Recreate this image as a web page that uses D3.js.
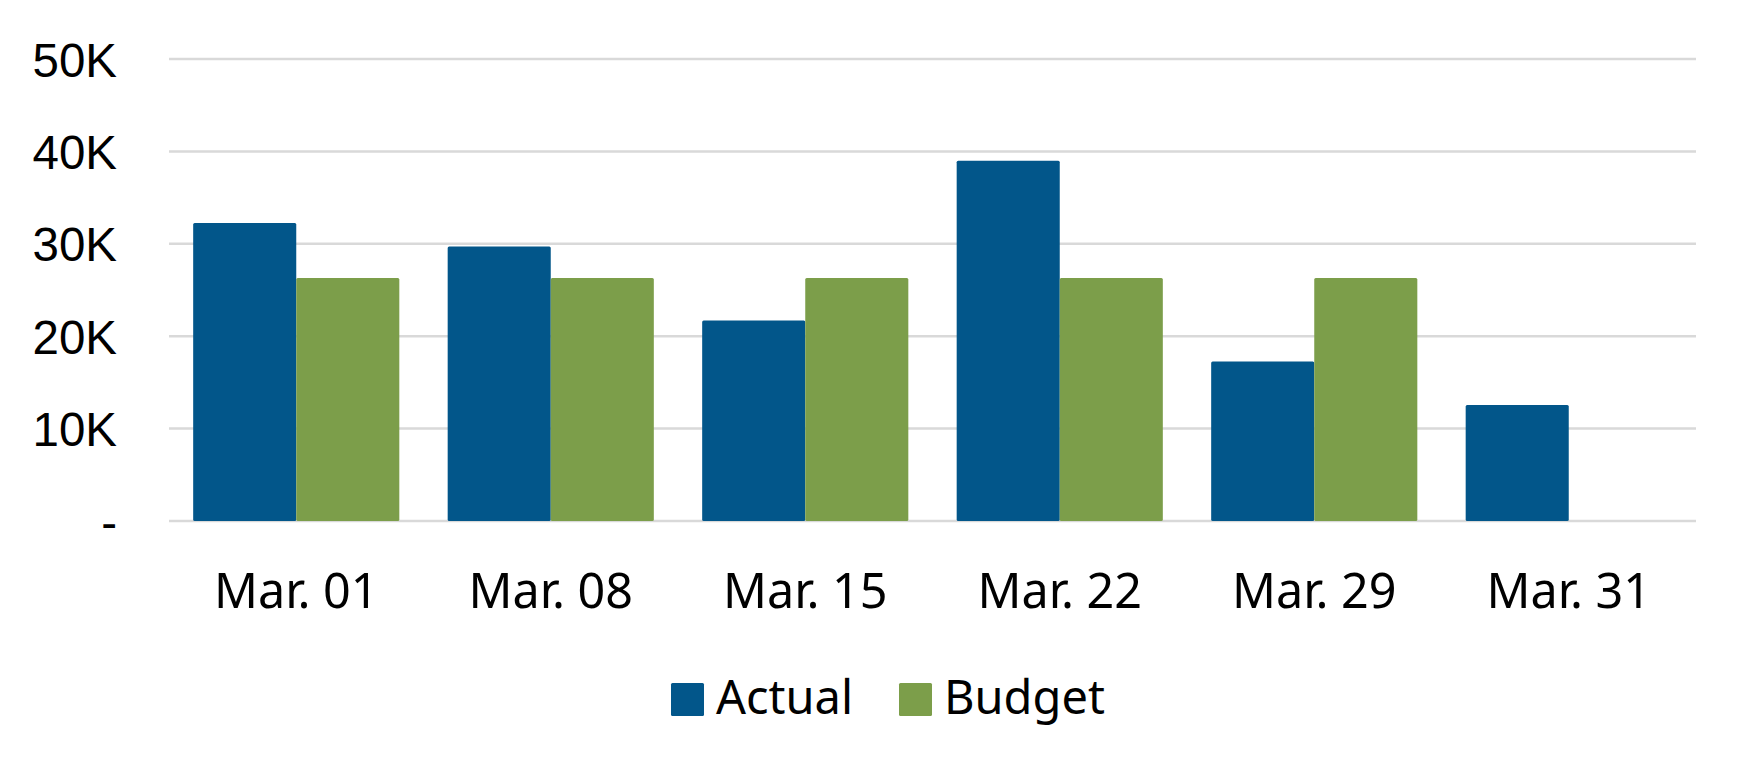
<!DOCTYPE html>
<html>
<head>
<meta charset="utf-8">
<script src="https://cdn.jsdelivr.net/npm/d3@7"></script>
<style>
  body { margin: 0; background: #fff; }
</style>
</head>
<body>
<div id="chart"></div>
<script>
const categories = ['Mar. 01', 'Mar. 08', 'Mar. 15', 'Mar. 22', 'Mar. 29', 'Mar. 31'];
const actual = [32250, 29700, 21700, 39000, 17250, 12550];
const budget = [26300, 26300, 26300, 26300, 26300, null];
const yTicks = [0, 10000, 20000, 30000, 40000, 50000];
const yTickLabels = ['-', '10K', '20K', '30K', '40K', '50K'];
const seriesNames = ['Actual', 'Budget'];
const colors = ['#02568A', '#7C9E4A'];

const width = 1750,
      height = 779;
const plotLeft = 169, plotRight = 1696, plotTop = 59, plotBottom = 521;

const svg = d3.select('#chart')
    .append('svg')
    .attr('width', width)
    .attr('height', height);

const xScale = d3.scaleBand()
    .domain(categories)
    .range([plotLeft, plotRight])
    .paddingInner(0.19)
    .paddingOuter(0.095);

const xSub = d3.scaleBand()
    .domain(seriesNames)
    .range([0, xScale.bandwidth()]);

const yScale = d3.scaleLinear()
    .domain([0, 50000])
    .range([plotBottom, plotTop]);

// gridlines
svg.append('g')
    .selectAll('line')
    .data(yTicks)
    .enter().append('line')
    .attr('x1', plotLeft)
    .attr('x2', plotRight)
    .attr('y1', d => yScale(d))
    .attr('y2', d => yScale(d))
    .attr('stroke', '#d9d9d9')
    .attr('stroke-width', 2.5);

// y axis labels
const yAxis = d3.axisLeft(yScale)
    .tickValues(yTicks)
    .tickFormat((d, i) => yTickLabels[i])
    .tickSize(0)
    .tickPadding(0);

svg.append('g')
    .attr('transform', 'translate(117, 0)')
    .call(yAxis)
    .call(g => g.select('.domain').remove())
    .selectAll('text')
    .attr('font-family', '"Liberation Sans", Arial, sans-serif')
    .attr('font-size', 47.5)
    .attr('fill', '#000')
    .attr('dy', '0.36em');

// bars
const rows = categories.map((c, i) => ({ cat: c, values: [actual[i], budget[i]] }));

const groups = svg.append('g')
    .selectAll('g')
    .data(rows)
    .enter().append('g')
    .attr('transform', d => `translate(${xScale(d.cat)}, 0)`);

groups.selectAll('rect')
    .data(d => d.values.map((v, j) => ({ name: seriesNames[j], value: v, color: colors[j] }))
        .filter(d => d.value != null))
    .enter().append('rect')
    .attr('x', d => xSub(d.name))
    .attr('width', xSub.bandwidth())
    .attr('y', d => yScale(d.value))
    .attr('height', d => yScale(0) - yScale(d.value))
    .attr('rx', 1.5)
    .attr('fill', d => d.color);

// x axis labels
const xAxis = d3.axisBottom(xScale).tickSize(0).tickPadding(0);

svg.append('g')
    .attr('transform', `translate(0, 608)`)
    .call(xAxis)
    .call(g => g.select('.domain').remove())
    .selectAll('text')
    .attr('font-family', '"Noto Sans", sans-serif')
    .attr('font-size', 48.5)
    .attr('fill', '#000')
    .attr('dy', 0);

// legend
const legendX = [671, 899];
const legend = svg.append('g')
    .selectAll('g')
    .data(seriesNames)
    .enter().append('g')
    .attr('transform', (d, i) => `translate(${legendX[i]}, 683)`);

legend.append('rect')
    .attr('width', 33)
    .attr('height', 33)
    .attr('rx', 1.5)
    .attr('fill', (d, i) => colors[i]);

legend.append('text')
    .attr('x', 45)
    .attr('y', 31)
    .attr('font-family', '"Noto Sans", sans-serif')
    .attr('font-size', 47)
    .attr('fill', '#000')
    .text(d => d);
</script>
</body>
</html>
